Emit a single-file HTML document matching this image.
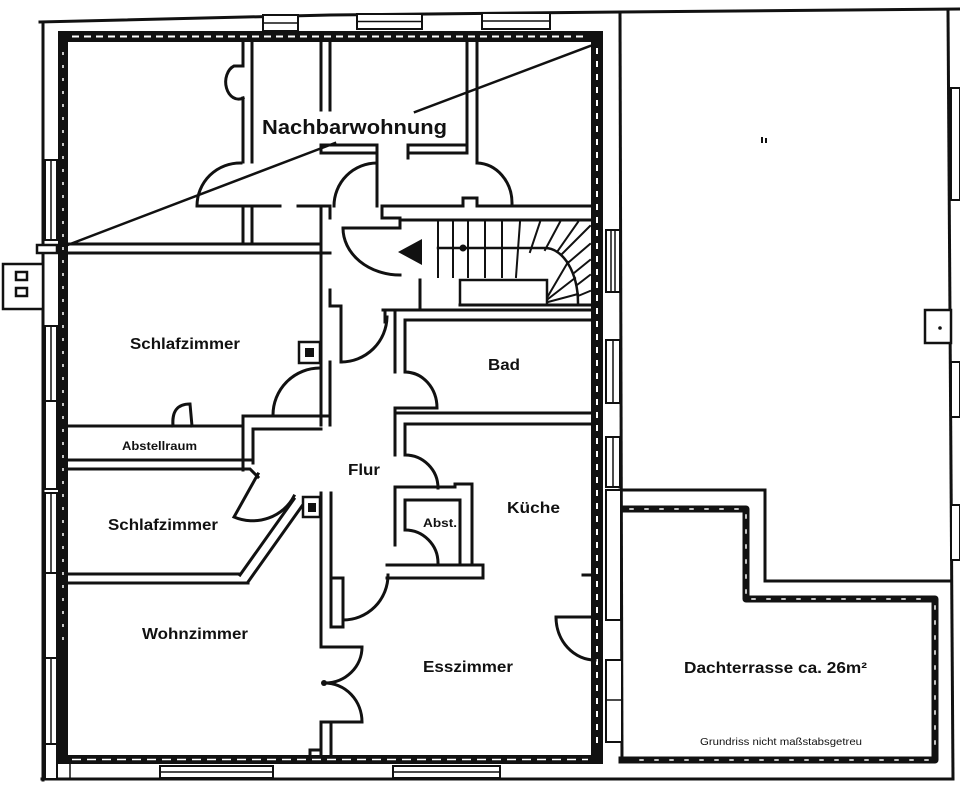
<!DOCTYPE html>
<html><head><meta charset="utf-8"><style>
html,body{margin:0;padding:0;background:#fff;}
svg{display:block;}
text{font-family:"Liberation Sans",Arial,sans-serif;font-weight:bold;fill:#111;}
</style></head><body>
<svg width="960" height="787" viewBox="0 0 960 787" xmlns="http://www.w3.org/2000/svg">
<rect width="960" height="787" fill="#fff"/>

<!-- thick walls -->
<g fill="#111" stroke="none">
<rect x="58" y="32" width="10" height="731"/>
<rect x="58" y="31" width="545" height="11"/>
<rect x="591" y="31" width="12" height="732"/>
<rect x="58" y="755" width="545" height="9"/>
</g>
<g fill="none" stroke="#fff" stroke-width="2">
<path d="M72,36.5 H588" stroke-dasharray="7 5"/>
<path d="M597,48 V748" stroke-dasharray="6 7"/>
<path d="M63,52 V650" stroke-dasharray="3 10" stroke-width="1.5"/>
<path d="M72,759.5 H588" stroke-dasharray="9 6" stroke-width="1.5"/>
</g>

<g fill="none" stroke="#111" stroke-width="3" stroke-linecap="square" stroke-linejoin="miter">
<!-- outer lines -->
<path d="M40,22 L330,15 L620,12 L960,9"/>
<path d="M43,22 V780"/>
<path d="M42,779 H953"/>
<path d="M948,10 L953,779"/>
<path d="M620,12 L622,762"/>

<!-- Dachterrasse -->
<path d="M620,490 H765 V581 H950"/>
<path d="M622,509 H746 V599 H935 V760 H622" stroke-width="7" stroke-linejoin="round"/>
<path d="M630,509 H742 M746,515 V594 M752,599 H930 M935,606 V754 M928,760 H630" stroke="#fff" stroke-width="1.5" stroke-dasharray="3 12"/>

<!-- Nachbarwohnung -->
<path d="M243,42 V66 M252,42 V162 M243,98 V162"/>
<path d="M243,66 H234 A12 16 0 0 0 243,98"/>
<path d="M241,163 A43 43 0 0 0 197,206 H280"/>
<path d="M298,206 H330"/>
<path d="M243,206 V244 M252,206 V244"/>
<path d="M68,244 H321 M68,253 H330"/>
<path d="M321,42 V110 M330,42 V110"/>
<path d="M321,145 H377 M321,153 H377 M321,145 V153"/>
<path d="M408,145 H467 M408,153 H467 M408,145 V158"/>
<path d="M377,145 V206"/>
<path d="M377,163 A43 43 0 0 0 334,206"/>
<path d="M467,42 V153 M477,42 V163"/>
<path d="M477,163 A36 40 0 0 1 512,203"/>
<path d="M382,206 H463 V198 H477 V206 H591"/>
<path d="M65,246 L335,143 M415,112 L590,46" stroke-width="2.5"/>

<!-- stair hall -->
<path d="M321,206 V425"/>
<path d="M330,206 V218 M330,290 V306 H341 V362 M330,362 V425"/>
<path d="M382,206 V218 H400 V228 H343"/>
<path d="M343,228 A57 47 0 0 0 400,275"/>
<path d="M400,220 H591"/>
<path d="M460,305 H591"/>
<path d="M420,280 V309"/>
<path d="M383,310 H591 M385,310 V322 M405,320 H591"/>
<g stroke-width="2">
<path d="M438,222 V277 M453,222 V277 M468,222 V277 M485,222 V277 M502,222 V277 M520,222 L516,277 M540,222 L530,252 M560,222 L545,250 M578,222 L557,252"/>
<path d="M562,254 L590,226 M569,262 L590,244 M574,273 L590,260 M577,285 L590,275 M578,296 L590,291"/>
<path d="M548,296 L568,262 M548,299 L575,278 M548,302 L578,294"/>
</g>
<path d="M438,248 H545 A33 55 0 0 1 578,303" stroke-width="2.5"/>
<rect x="460" y="280" width="87" height="25" stroke-width="2.5"/>

<!-- upper Flur / Bad -->
<path d="M387,317 A46 46 0 0 1 341,362"/>
<path d="M395,310 V372 M405,320 V372"/>
<path d="M405,372 A32 36 0 0 1 437,408 H395"/>
<path d="M395,413 H591 M405,424 H591"/>
<path d="M395,408 V455 M405,424 V455"/>

<!-- left Flur, bedrooms -->
<path d="M273,415 A47 47 0 0 1 320,368"/>
<path d="M243,416 H330 M253,429 H321"/>
<path d="M243,416 V470 M253,429 V463"/>
<path d="M68,426 H243"/>
<path d="M173,426 Q171,404 190,404 L192,426"/>
<path d="M68,460 H253 M68,469 H250 L258,477"/>
<path d="M258,474 L234,517 A46 44 0 0 0 294,496"/>
<path d="M294,499 L240,575 M302,506 L248,582"/>
<path d="M68,574 H240 M68,583 H248"/>
<path d="M321,493 V647 M331,493 V627 H343 V578 H331"/>
<path d="M343,620 A45 45 0 0 0 388,575"/>

<!-- Wohnzimmer double door -->
<path d="M321,647 H362 A37 36 0 0 1 325,683"/>
<path d="M325,683 A37 39 0 0 1 362,722 H321"/>
<path d="M321,722 V756 M331,722 V756 M310,756 V750 H321"/>

<!-- Küche door, Abst -->
<path d="M405,455 A33 33 0 0 1 438,488"/>
<path d="M395,487 H455 V484 H472 V565"/>
<path d="M395,487 V545 M405,500 V530"/>
<path d="M405,500 H460 V565"/>
<path d="M405,530 A33 33 0 0 1 438,563"/>
<path d="M387,565 H483 M387,578 H483 M483,565 V578"/>

<!-- Esszimmer door -->
<path d="M556,617 H595 M556,617 A39 43 0 0 0 595,660"/>
<path d="M583,575 H591"/>
</g>

<!-- small boxes / chimneys -->
<g fill="#fff" stroke="#111" stroke-width="2.5">
<rect x="3" y="264" width="40" height="45"/>
<rect x="37" y="245" width="20" height="8"/>
<rect x="16" y="272" width="11" height="8"/>
<rect x="16" y="288" width="11" height="8"/>
<rect x="299" y="342" width="21" height="21"/>
<rect x="303" y="497" width="17" height="20"/>
<rect x="925" y="310" width="26" height="33"/>
</g>
<g fill="#111">
<rect x="305" y="348" width="9" height="9"/>
<rect x="308" y="503" width="8" height="9"/>
<circle cx="463" cy="248" r="3.5"/>
<circle cx="324" cy="683" r="3"/>
<polygon points="398,252 422,239 422,265"/>
<circle cx="940" cy="328" r="1.8"/>
<rect x="761" y="137" width="2" height="6"/>
<rect x="765" y="138" width="2" height="5"/>
</g>

<!-- windows -->
<g fill="#fff" stroke="#111" stroke-width="2">
<rect x="263" y="15" width="35" height="16"/>
<rect x="357" y="14" width="65" height="15"/>
<rect x="482" y="13" width="68" height="16"/>
<rect x="45" y="160" width="12" height="80"/>
<rect x="45" y="326" width="12" height="75"/>
<rect x="45" y="401" width="12" height="88"/>
<rect x="45" y="493" width="12" height="80"/>
<rect x="45" y="573" width="12" height="85"/>
<rect x="45" y="658" width="12" height="86"/>
<rect x="45" y="744" width="12" height="35"/>
<rect x="606" y="230" width="14" height="62"/>
<rect x="606" y="340" width="14" height="63"/>
<rect x="606" y="437" width="14" height="50"/>
<rect x="606" y="490" width="15" height="130"/>
<rect x="606" y="660" width="16" height="82"/>
<rect x="951" y="88" width="9" height="112"/>
<rect x="951" y="362" width="9" height="55"/>
<rect x="951" y="505" width="9" height="55"/>
<rect x="160" y="766" width="113" height="12"/>
<rect x="393" y="766" width="107" height="12"/>
</g>
<g fill="none" stroke="#111" stroke-width="1.5">
<path d="M263,23 H298 M357,21.5 H422 M482,21 H550"/>
<path d="M51,160 V240 M51,326 V401 M51,493 V573 M51,658 V744"/>
<path d="M611,230 V292 M615,230 V292 M613,340 V403 M613,437 V487 M606,700 H622"/>
<path d="M160,772 H273 M393,772 H500 M70,764 V779"/>
</g>

<!-- labels -->
<text x="262" y="134" font-size="20" textLength="185" lengthAdjust="spacingAndGlyphs">Nachbarwohnung</text>
<text x="130" y="349" font-size="15.5" textLength="110" lengthAdjust="spacingAndGlyphs">Schlafzimmer</text>
<text x="122" y="450" font-size="12" textLength="75" lengthAdjust="spacingAndGlyphs">Abstellraum</text>
<text x="108" y="530" font-size="15.5" textLength="110" lengthAdjust="spacingAndGlyphs">Schlafzimmer</text>
<text x="142" y="639" font-size="15.5" textLength="106" lengthAdjust="spacingAndGlyphs">Wohnzimmer</text>
<text x="488" y="370" font-size="15.5" textLength="32" lengthAdjust="spacingAndGlyphs">Bad</text>
<text x="348" y="475" font-size="15.5" textLength="32" lengthAdjust="spacingAndGlyphs">Flur</text>
<text x="507" y="513" font-size="15.5" textLength="53" lengthAdjust="spacingAndGlyphs">Küche</text>
<text x="423" y="527" font-size="12" textLength="34" lengthAdjust="spacingAndGlyphs">Abst.</text>
<text x="423" y="672" font-size="15.5" textLength="90" lengthAdjust="spacingAndGlyphs">Esszimmer</text>
<text x="684" y="673" font-size="15.5" textLength="183" lengthAdjust="spacingAndGlyphs">Dachterrasse ca. 26m²</text>
<text x="700" y="745" font-size="10.5" textLength="162" lengthAdjust="spacingAndGlyphs" style="font-weight:normal">Grundriss nicht maßstabsgetreu</text>
</svg>
</body></html>
